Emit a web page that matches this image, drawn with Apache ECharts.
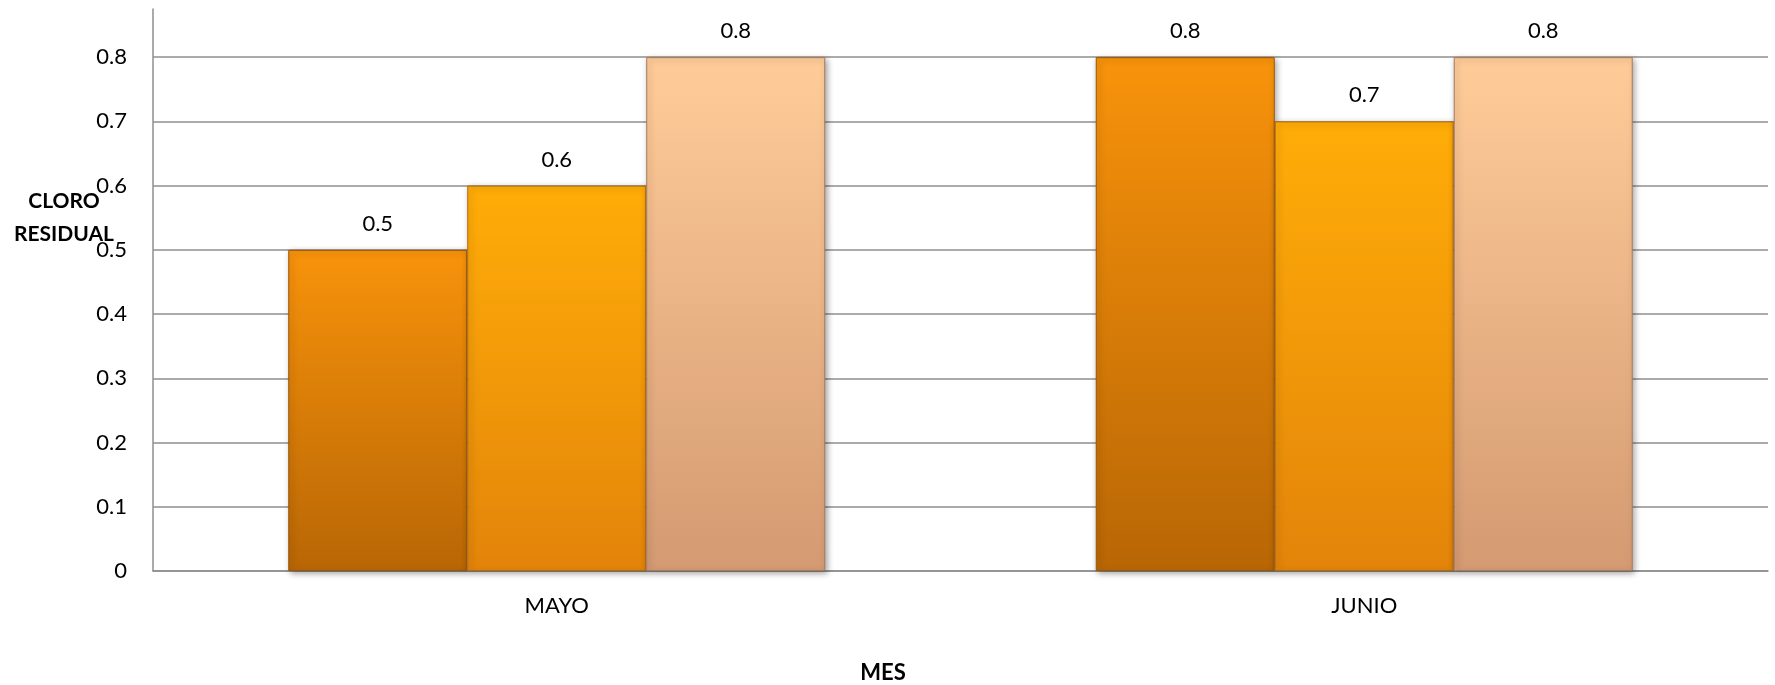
<!DOCTYPE html>
<html>
<head>
<meta charset="utf-8">
<script src="https://cdn.jsdelivr.net/npm/echarts@6/dist/echarts.min.js"></script>
<style>
html,body{margin:0;padding:0;background:#fff;}
#chart{width:1775px;height:685px;}
</style>
</head>
<body>
<div id="chart"></div>
<script>
const categories = ['MAYO', 'JUNIO'];
const serie1 = [0.5, 0.8];
const serie2 = [0.6, 0.7];
const serie3 = [0.8, 0.8];
const yAxisTitle = 'CLORO\nRESIDUAL';
const xAxisTitle = 'MES';

const FONT = 'Lato, "Liberation Sans", sans-serif';

function grad(top, bottom) {
  return new echarts.graphic.LinearGradient(0, 0, 0, 1, [
    {offset: 0, color: top},
    {offset: 1, color: bottom}
  ]);
}

function barSeries(name, data, top, bottom, border) {
  return {
    name: name,
    type: 'bar',
    data: data,
    barGap: 0,
    barCategoryGap: '33.5%',
    itemStyle: {
      color: grad(top, bottom),
      borderColor: border,
      borderWidth: 1,
      shadowBlur: 6,
      shadowColor: 'rgba(0,0,0,0.35)',
      shadowOffsetX: 2,
      shadowOffsetY: 2
    },
    label: {
      show: true,
      position: 'top',
      distance: 15,
      color: '#000',
      fontFamily: FONT,
      fontSize: 22,
      formatter: function (p) { return String(p.value); }
    }
  };
}

const chart = echarts.init(document.getElementById('chart'));
chart.setOption({
  animation: false,
  backgroundColor: '#fff',
  grid: {left: 153, right: 7, top: 9, bottom: 114, containLabel: false},
  xAxis: {
    type: 'category',
    data: categories,
    axisLine: {show: true, lineStyle: {color: '#8f8f8f', width: 1.5}},
    axisTick: {show: false},
    axisLabel: {color: '#000', fontFamily: FONT, fontSize: 22, margin: 24}
  },
  yAxis: {
    type: 'value',
    min: 0,
    max: 0.875,
    interval: 0.1,
    axisLine: {show: true, lineStyle: {color: '#8f8f8f', width: 1.5}},
    axisTick: {show: false},
    axisLabel: {
      color: '#000', fontFamily: FONT, fontSize: 22, margin: 26,
      showMaxLabel: false,
      formatter: function (v) { return v > 0.85 ? '' : String(Math.round(v * 10) / 10); }
    },
    splitLine: {show: true, showMaxLine: false, lineStyle: {color: '#8f8f8f', width: 1.5}}
  },
  graphic: [
    {
      type: 'text', x: 64, y: 218,
      style: {
        text: yAxisTitle, fontFamily: FONT, fontSize: 21, fontWeight: 'bold',
        fill: '#000', textAlign: 'center', textVerticalAlign: 'middle', lineHeight: 33
      }
    },
    {
      type: 'text', x: 883, y: 673,
      style: {
        text: xAxisTitle, fontFamily: FONT, fontSize: 22, fontWeight: 'bold',
        fill: '#000', textAlign: 'center', textVerticalAlign: 'middle'
      }
    }
  ],
  series: [
    barSeries('Serie 1', serie1, '#F8930B', '#B86605', '#9a5406'),
    barSeries('Serie 2', serie2, '#FFAD08', '#E3840A', '#b8690a'),
    barSeries('Serie 3', serie3, '#FFCC99', '#D49A72', '#a87a5c')
  ]
});
</script>
</body>
</html>
